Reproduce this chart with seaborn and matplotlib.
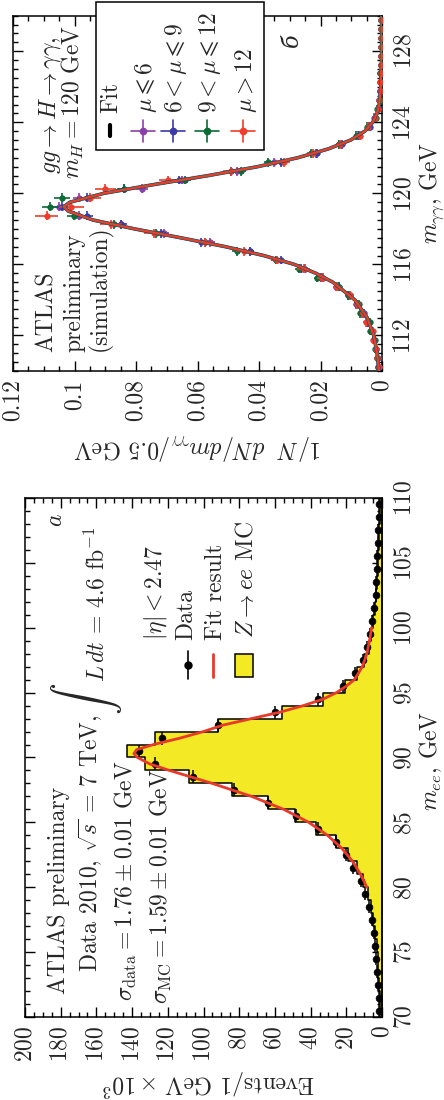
import numpy as np
import pandas as pd
import matplotlib
matplotlib.use("Agg")
import matplotlib.pyplot as plt
import seaborn as sns
from matplotlib.ticker import MultipleLocator, FuncFormatter, FixedLocator
from matplotlib.lines import Line2D
from matplotlib.patches import Rectangle

# ---------------- data: panel a (Z -> ee) ----------------
zee_edges = list(np.arange(70, 111, 1.0))
zee_centers = list(np.arange(70.5, 110, 1.0))
zee_data = [1.5, 1.8, 2.1, 2.6, 3.1, 3.8, 4.7, 5.8, 7.3, 9.3,
            12, 16, 20, 26, 36, 48, 64, 83, 106, 127,
            136, 123, 92, 60, 36, 22, 15, 10.6, 8.4, 7.0,
            5.6, 4.5, 3.6, 3.3, 3.0, 2.6, 2.3, 2.0, 1.8, 1.6]
zee_mc = [1.2, 1.4, 1.7, 2.0, 2.5, 3.0, 3.8, 4.8, 6.2, 8.0,
          10.5, 14, 19, 26, 37, 49, 64, 84, 108, 133,
          143, 127, 92, 56, 33, 21, 14, 10, 7.5, 6.0,
          4.8, 4.0, 3.3, 2.8, 2.4, 2.1, 1.8, 1.6, 1.4, 1.3]
zfit_mass = [80, 81, 82, 83, 84, 85, 86, 87, 88, 88.5, 89, 89.5, 90, 90.3, 90.6, 91,
             91.5, 92, 92.5, 93, 93.5, 94, 94.5, 95, 95.5, 96, 97, 98, 99, 100]
zfit_val = [8.5, 12, 16.5, 22.5, 30.5, 41, 55, 73, 95, 107, 119, 130, 137, 139, 137.5, 128,
            113, 100, 89, 73, 57, 44, 33, 25.5, 20, 15.5, 11, 8.5, 7, 5.8]

# ---------------- data: panel b (H -> gamma gamma) ----------------
hgg_centers = list(np.arange(110.25, 130, 0.5))
mu_le6 = [0.0010, 0.0014, 0.0020, 0.0026, 0.0035, 0.0047, 0.0065, 0.0082, 0.0105, 0.0150,
          0.0192, 0.0250, 0.0345, 0.0430, 0.0560, 0.0710, 0.0850, 0.0985, 0.1050, 0.0985,
          0.0780, 0.0650, 0.0470, 0.0350, 0.0215, 0.0140, 0.0078, 0.0045, 0.0026, 0.0014,
          0.0009, 0.0007, 0.0005, 0.0004, 0.0004, 0.0003, 0.0003, 0.0003, 0.0002, 0.0002]
mu_6_9 = [0.0012, 0.0016, 0.0018, 0.0025, 0.0032, 0.0048, 0.0058, 0.0085, 0.0112, 0.0140,
          0.0200, 0.0265, 0.0330, 0.0430, 0.0590, 0.0720, 0.0850, 0.0960, 0.1040, 0.0960,
          0.0840, 0.0660, 0.0490, 0.0330, 0.0210, 0.0130, 0.0075, 0.0040, 0.0022, 0.0012,
          0.0010, 0.0006, 0.0005, 0.0005, 0.0004, 0.0003, 0.0004, 0.0003, 0.0002, 0.0002]
mu_9_12 = [0.0013, 0.0015, 0.0022, 0.0022, 0.0038, 0.0040, 0.0070, 0.0075, 0.0110, 0.0140,
           0.0210, 0.0270, 0.0345, 0.0470, 0.0575, 0.0735, 0.0870, 0.1000, 0.1080, 0.1040,
           0.0840, 0.0640, 0.0460, 0.0370, 0.0230, 0.0140, 0.0085, 0.0050, 0.0020, 0.0015,
           0.0008, 0.0006, 0.0004, 0.0005, 0.0003, 0.0004, 0.0003, 0.0002, 0.0003, 0.0002]
mu_gt12 = [0.0011, 0.0016, 0.0020, 0.0028, 0.0030, 0.0052, 0.0062, 0.0080, 0.0105, 0.0145,
           0.0195, 0.0255, 0.0340, 0.0450, 0.0575, 0.0740, 0.0880, 0.1090, 0.1010, 0.0950,
           0.0900, 0.0695, 0.0490, 0.0320, 0.0225, 0.0135, 0.0072, 0.0044, 0.0024, 0.0013,
           0.0009, 0.0007, 0.0005, 0.0004, 0.0004, 0.0003, 0.0003, 0.0003, 0.0002, 0.0002]
err_base = [0.0002, 0.0002, 0.0003, 0.0003, 0.0004, 0.0005, 0.0005, 0.0006, 0.0007, 0.0008,
            0.0009, 0.0011, 0.0012, 0.0014, 0.0016, 0.0018, 0.0020, 0.0021, 0.0022, 0.0021,
            0.0019, 0.0017, 0.0015, 0.0012, 0.0010, 0.0008, 0.0006, 0.0005, 0.0003, 0.0003,
            0.0002, 0.0002, 0.0002, 0.0002, 0.0002, 0.0002, 0.0002, 0.0002, 0.0002, 0.0002]
err_scale = [1.0, 0.9, 1.2, 1.8]
bfit_mass = [110, 111, 112, 113, 114, 115, 115.5, 116, 116.5, 117, 117.5, 118, 118.5, 119, 119.25,
             119.5, 120, 120.5, 121, 121.5, 122, 122.5, 123, 123.5, 124, 124.5, 125, 126, 127, 128, 130]
bfit_val = [0.0010, 0.0016, 0.0027, 0.0048, 0.0088, 0.0160, 0.0215, 0.0285, 0.0385, 0.0510,
            0.0655, 0.0805, 0.0940, 0.1020, 0.1035, 0.1015, 0.0905, 0.0740, 0.0565, 0.0405,
            0.0275, 0.0175, 0.0102, 0.0056, 0.0030, 0.0016, 0.0009, 0.0004, 0.0002, 0.0001, 0.0001]
series_labels = [r"$\mu \leqslant 6$", r"$6 < \mu \leqslant 9$", r"$9 < \mu \leqslant 12$", r"$\mu > 12$"]
series_colors = ["#8b3fa8", "#3b3ba8", "#0b6b35", "#f03c2a"]

# ---------------- style ----------------
sns.set_style("ticks")
plt.rcParams.update({
    "font.family": ["cmr10", "DejaVu Serif"],
    "mathtext.fontset": "cm",
    "axes.unicode_minus": False,
    "axes.formatter.use_mathtext": True,
    "font.size": 17,
    "axes.linewidth": 1.1,
    "axes.edgecolor": "black",
})

W, H = 444.0, 1100.0
fig = plt.figure(figsize=(4.44, 11), dpi=100)


def fx(x):
    return x / W


def fy(y):
    return 1 - y / H


def rtext(x, y, s, **kw):
    fig.text(fx(x), fy(y), s, rotation=90, rotation_mode="anchor",
             ha="left", va="baseline", **kw)


def style_axes(ax, xmaj, xmin, ymin):
    ax.xaxis.set_major_locator(MultipleLocator(xmaj))
    ax.xaxis.set_minor_locator(MultipleLocator(xmin))
    ax.yaxis.set_minor_locator(MultipleLocator(ymin))
    ax.tick_params(which="both", direction="in", top=True, bottom=True,
                   left=True, right=True, labelbottom=True, labeltop=False,
                   labelleft=False, labelright=True, color="black", width=1.0)
    ax.tick_params(which="major", length=7.5)
    ax.tick_params(which="minor", length=3.8)
    ax.tick_params(axis="x", which="major", pad=6, labelrotation=90)
    ax.tick_params(axis="y", which="major", pad=8, labelrotation=90)
    for sp in ax.spines.values():
        sp.set_visible(True)
        sp.set_color("black")
        sp.set_linewidth(1.1)
    ax.set_xlabel("")
    ax.set_ylabel("")


# ---------------- panel a ----------------
axa = fig.add_axes([fx(25), fy(1017), (382 - 25) / W, (1017 - 498) / H])
mc_df = pd.DataFrame({"mass": zee_centers, "events": zee_mc})
sns.histplot(data=mc_df, y="mass", weights="events", bins=zee_edges, element="step",
             fill=True, color="#f4e925", alpha=1.0, edgecolor="black",
             linewidth=1.1, ax=axa, zorder=1)
axa.errorbar(zee_data, zee_centers, yerr=0.5, fmt="none", ecolor="black",
             elinewidth=1.1, zorder=3)
sns.scatterplot(x=zee_data, y=zee_centers, s=24, color="black",
                edgecolor="black", linewidth=0.5, ax=axa, zorder=4)
sns.lineplot(x=zfit_val, y=zfit_mass, sort=False, estimator=None,
             color="#e8392b", linewidth=2.0, ax=axa, zorder=5)
axa.set_xlim(200, 0)
axa.set_ylim(70, 110)
axa.yaxis.set_major_locator(FixedLocator(list(range(70, 111, 5))))
style_axes(axa, 20, 5, 1)
plt.setp(axa.get_yticklabels(), va="center", ha="left")

# ---------------- panel b ----------------
axb = fig.add_axes([fx(13), fy(371), (382 - 13) / W, (371 - 15.7) / H])
for i, (vals, col) in enumerate(zip([mu_le6, mu_6_9, mu_9_12, mu_gt12], series_colors)):
    err = [e * err_scale[i] for e in err_base]
    axb.errorbar(vals, hgg_centers, xerr=err, yerr=0.25, fmt="none",
                 ecolor=col, elinewidth=1.2, zorder=3 + i)
    sns.scatterplot(x=vals, y=hgg_centers, s=16, color=col, edgecolor=col,
                    linewidth=0.5, ax=axb, zorder=3.5 + i)
sns.lineplot(x=bfit_val, y=bfit_mass, sort=False, estimator=None,
             color="#3b3ba8", linewidth=2.6, ax=axb, zorder=8)
sns.lineplot(x=bfit_val, y=bfit_mass, sort=False, estimator=None,
             color="#0b6b35", linewidth=2.2, ax=axb, zorder=9)
sns.lineplot(x=bfit_val, y=bfit_mass, sort=False, estimator=None,
             color="#f03c2a", linewidth=1.6, ax=axb, zorder=10)
axb.set_xlim(0.12, 0)
axb.set_ylim(110, 130)
axb.yaxis.set_major_locator(FixedLocator([112, 116, 120, 124, 128]))
style_axes(axb, 0.02, 0.005, 0.5)
axb.xaxis.set_major_formatter(FuncFormatter(lambda v, p: "%g" % round(v, 3)))
plt.setp(axb.get_yticklabels(), va="center", ha="left")

# ---------------- panel a texts ----------------
rtext(65, 994, "ATLAS preliminary")
rtext(97, 972, r"Data 2010, $\sqrt{s}$ = 7 TeV,")
fig.text(fx(86), fy(699), r"$\int$", rotation=90, ha="center", va="center", fontsize=23)
rtext(104, 682, r"$L\,dt$ = 4.6 fb$^{-1}$")
rtext(133, 1001, r"$\sigma_{\rm data} = 1.76 \pm 0.01$ GeV")
rtext(167, 1004, r"$\sigma_{\rm MC} = 1.59 \pm 0.01$ GeV")
rtext(161, 640, r"$|\eta| < 2.47$")
rtext(192, 640, "Data")
rtext(222, 640, "Fit result")
rtext(253, 638, r"$Z \rightarrow ee$ MC")
rtext(62, 527, r"$a$")
rtext(437, 811, r"$m_{ee}$, GeV")
fig.text(fx(209), fy(1083), r"Events/1 GeV $\times\,10^3$", rotation=180,
         ha="center", va="center")

# legend symbols panel a
fig.add_artist(Line2D([fx(188), fx(188)], [fy(651), fy(679)], color="black", lw=1.2,
                      transform=fig.transFigure, zorder=6))
fig.add_artist(Line2D([fx(188)], [fy(665)], color="black", marker="o", ms=5,
                      transform=fig.transFigure, zorder=6))
fig.add_artist(Line2D([fx(213), fx(213)], [fy(654), fy(677)], color="#e8392b", lw=2.0,
                      transform=fig.transFigure, zorder=6))
fig.add_artist(Rectangle((fx(235), fy(677)), (253 - 235) / W, (677 - 654) / H,
                         facecolor="#f4e925", edgecolor="black", lw=1.1,
                         transform=fig.transFigure, zorder=6))

# ---------------- panel b texts ----------------
rtext(53, 352, "ATLAS")
rtext(80, 352, "preliminary")
rtext(106, 351, "(simulation)")
rtext(55, 174, r"$gg \rightarrow H \rightarrow \gamma\gamma,$")
rtext(80, 179, r"$m_H = 120$ GeV")
rtext(437, 244, r"$m_{\gamma\gamma}$, GeV")
fig.text(fx(197), fy(447), r"$1/N\ \ dN/dm_{\gamma\gamma}/0.5$ GeV", rotation=180,
         ha="center", va="center")
fig.text(fx(292), fy(40), "б", rotation=90, ha="center", va="center",
         family=["DejaVu Serif"], style="italic", fontsize=16)

# legend box panel b
fig.add_artist(Rectangle((fx(96), fy(150)), (264 - 96) / W, (150 - 2) / H,
                         facecolor="white", edgecolor="black", lw=1.1,
                         transform=fig.transFigure, zorder=5))
leg_x = [143, 173, 207, 243]
rtext(117, 113, "Fit", zorder=7)
fig.add_artist(Line2D([fx(110), fx(110)], [fy(125), fy(136)], color="black", lw=3,
                      transform=fig.transFigure, zorder=7))
for lx, lab, col in zip(leg_x, series_labels, series_colors):
    rtext(lx + 9, 113, lab, zorder=7)
    fig.add_artist(Line2D([fx(lx - 12), fx(lx + 12)], [fy(131), fy(131)], color=col, lw=1.2,
                          transform=fig.transFigure, zorder=7))
    fig.add_artist(Line2D([fx(lx), fx(lx)], [fy(120), fy(142)], color=col, lw=1.2,
                          transform=fig.transFigure, zorder=7))
    fig.add_artist(Line2D([fx(lx)], [fy(131)], color=col, marker="o", ms=4.5,
                          transform=fig.transFigure, zorder=7))

fig.savefig("out.png", dpi=100)
